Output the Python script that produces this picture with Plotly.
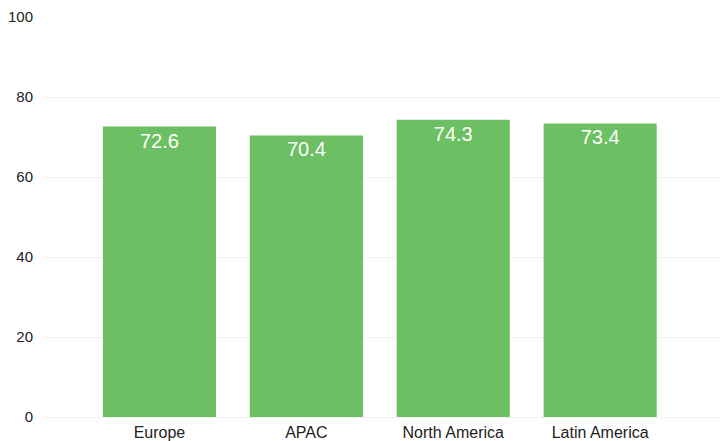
import plotly.graph_objects as go

REGIOES = ["Europe", "APAC", "North America", "Latin America"]
VALORES = [72.6, 70.4, 74.3, 73.4]
ROTULOS = ["72.6", "70.4", "74.3", "73.4"]

COR_BARRA = "#6CBF62"
COR_GRADE = "rgba(0,0,0,0.06)"

fig = go.Figure()

fig.add_trace(
    go.Bar(
        x=REGIOES,
        y=VALORES,
        text=ROTULOS,
        textposition="inside",
        insidetextanchor="end",
        textangle=0,
        textfont=dict(
            color="white",
            size=20
        ),
        marker=dict(
            color=COR_BARRA,
            line=dict(width=0)
        ),
        showlegend=False
    )
)

fig.update_layout(
    width=726,
    height=441,
    margin=dict(l=44, r=6, t=17, b=24),
    paper_bgcolor="white",
    plot_bgcolor="white",
    bargap=0.23,
    font=dict(
        family="Liberation Sans, Arial",
        size=15,
        color="#222222"
    )
)

fig.update_xaxes(
    range=[-0.786, 3.816],
    showgrid=False,
    showline=False,
    zeroline=False,
    ticks="",
    tickfont=dict(size=16),
    ticklabelstandoff=4,
    automargin=False
)

fig.update_yaxes(
    range=[0, 100],
    tickvals=[0, 20, 40, 60, 80, 100],
    showgrid=True,
    gridwidth=1,
    gridcolor=COR_GRADE,
    zeroline=True,
    zerolinecolor=COR_GRADE,
    zerolinewidth=1,
    showline=False,
    ticks="",
    ticklabelstandoff=10,
    automargin=False
)

# tira a margem padrão do body para a figura ocupar a janela inteira
fig.write_html(
    "out.html",
    config={"displayModeBar": False},
    post_script="document.body.style.margin='0';document.body.style.overflow='hidden';"
)
